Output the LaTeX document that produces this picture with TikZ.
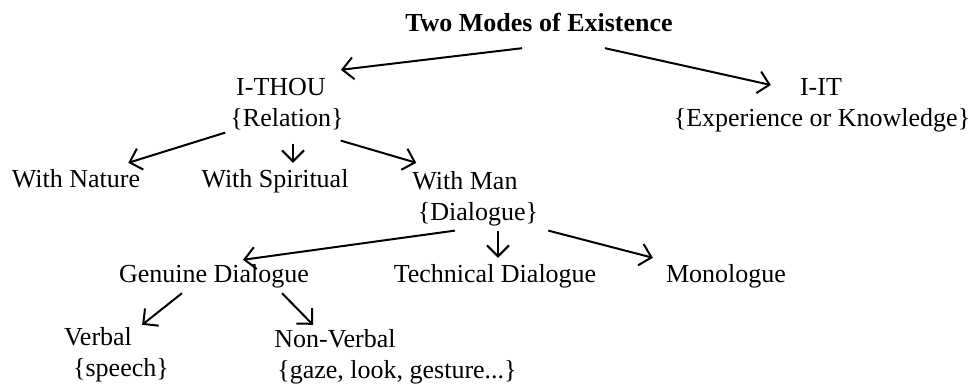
\documentclass[tikz,border=0pt]{standalone}
\usepackage{fontspec}
\setmainfont{Liberation Serif}
\usetikzlibrary{positioning,arrows.meta}
\tikzset{
  lbl/.style={
    inner sep=0pt, text height=18pt, text depth=6pt,
    font=\fontsize{26}{30}\selectfont,
  },
  arr/.style={-{Straight Barb[length=11pt,width=22pt]}, line width=2pt},
}

\begin{document}
\begin{tikzpicture}[x=1pt, y=-1pt, node distance=6pt]
\useasboundingbox (0,0) rectangle (975,387);

\node[lbl, font=\fontsize{26}{30}\selectfont\bfseries] (title) at (539,26)
  {Two Modes of Existence};

\node[lbl] (ithou) at (281,90) {I-THOU};
\node[lbl, below=of ithou, xshift=6pt] (relation) {\{Relation\}};

\node[lbl] (iit) at (821,90) {I-IT};
\node[lbl, below=of iit, xshift=1pt] (experience) {\{Experience or Knowledge\}};

\node[lbl] (nature) at (76,182) {With Nature};
\node[lbl] (spiritual) at (275,182) {With Spiritual};
\node[lbl] (man) at (465,184) {With Man};
\node[lbl, below=of man, xshift=13pt] (dialogue) {\{Dialogue\}};

\node[lbl] (genuine) at (214,277) {Genuine Dialogue};
\node[lbl] (technical) at (495,277) {Technical Dialogue};
\node[lbl] (monologue) at (726,277) {Monologue};

\node[lbl] (verbal) at (98,340) {Verbal};
\node[lbl, below=of verbal, xshift=23pt] (speech) {\{speech\}};
\node[lbl] (nonverbal) at (335,342) {Non-Verbal};
\node[lbl, below=of nonverbal, xshift=62pt] (gaze) {\{gaze, look, gesture...\}};

% two modes
\draw[arr] ([shift={(-17,10)}]title.south) -- ([shift={(15,-8)}]ithou.north east);
\draw[arr] ([shift={(66,10)}]title.south) -- ([shift={(-29,-5)}]iit.west);

% relation
\draw[arr] ([shift={(-5,0)}]relation.south west) -- ([shift={(-12,-7)}]nature.north east);
\draw[arr] ([shift={(6,11)}]relation.south) -- ([shift={(18,-7)}]spiritual.north);
\draw[arr] ([shift={(-3,8)}]relation.south east) -- ([shift={(4,-9)}]man.north west);

% dialogue
\draw[arr] ([shift={(-23,4)}]dialogue.south) -- ([shift={(29,-5)}]genuine.north);
\draw[arr] ([shift={(20,4)}]dialogue.south) -- ([shift={(3,-7)}]technical.north);
\draw[arr] ([shift={(10,4)}]dialogue.south east) -- ([shift={(-13,-7)}]monologue.north west);

% genuine
\draw[arr] ([shift={(-32,4)}]genuine.south) -- ([shift={(10,-3)}]verbal.north east);
\draw[arr] ([shift={(68,4)}]genuine.south) -- ([shift={(-22,-5)}]nonverbal.north);

\end{tikzpicture}
\end{document}
